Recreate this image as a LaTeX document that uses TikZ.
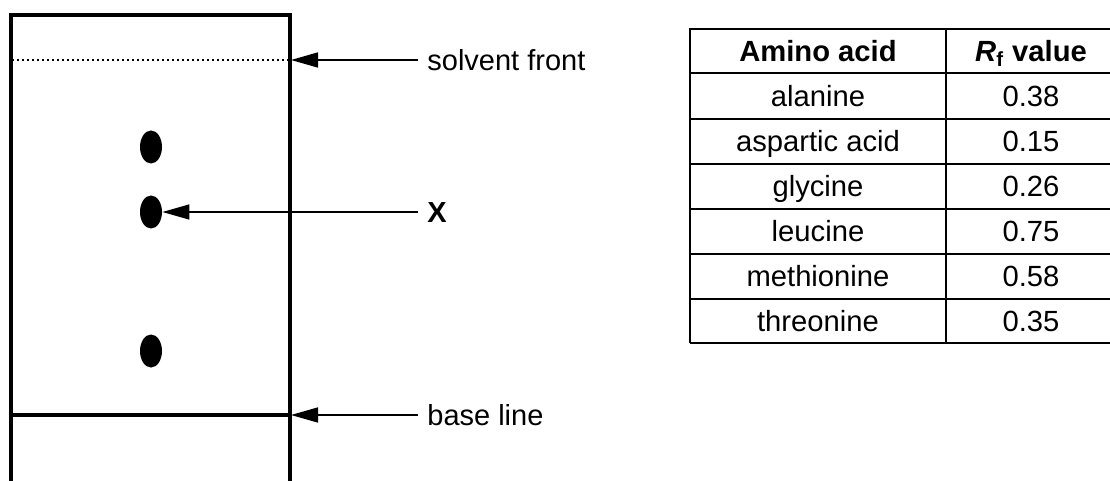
\documentclass[tikz,border=0pt]{standalone}
\usepackage{fontspec}
\setmainfont{Liberation Sans}
\usetikzlibrary{arrows.meta,shapes.geometric}
\begin{document}
\begin{tikzpicture}[x=0.5pt,y=-0.5pt,
  paper/.style={line width=1.6pt},
  spot/.style={ellipse,fill=black,draw=none,minimum width=11pt,minimum height=16.5pt,inner sep=0pt},
  arr/.style={line width=0.8pt,-{Triangle[length=13.5pt,width=7.5pt]}},
  lab/.style={anchor=west,inner xsep=4.5pt,inner ysep=0pt,text height=10.4pt,text depth=0pt,font=\fontsize{14.5}{17}\selectfont},
  grid/.style={line width=1.1pt},
  cell/.style={inner sep=0pt,text height=10.4pt,text depth=0pt,font=\fontsize{14.6}{17}\selectfont},
  head/.style={cell,font=\fontsize{14.6}{17}\selectfont\bfseries}]
\useasboundingbox (0,0) rectangle (1110,481);
\clip (0,0) rectangle (1110,481);
% chromatography paper
\draw[paper] (11,481) -- (11,15) -- (290,15) -- (290,481);
\draw[line width=1.2pt,dash pattern=on 1.1pt off 1.4pt] (12,60) -- (289,60);
\draw[paper] (11,415) -- (290,415);
% spots
\node[spot] (s1) at (151,147) {};
\node[spot] (s2) at (151,212) {};
\node[spot] (s3) at (151,351) {};
% labels and arrows
\coordinate (sftip) at (291,60);
\coordinate (bltip) at (291,415);
\node[lab] (sf) at (418,60) {solvent front};
\node[lab,font=\fontsize{14.5}{17}\selectfont\bfseries] (xl) at (418,212) {X};
\node[lab] (bl) at (418,415) {base line};
\draw[arr] (sf.west) -- (sftip);
\draw[arr] (xl.west) -- (s2.east);
\draw[arr] (bl.west) -- (bltip);
% table
\draw[grid] (690,343) -- (690,29) -- (1116,29);
\draw[grid] (946,29) -- (946,343);
\foreach \yy in {73,119,164,209,254,299,343} \draw[grid] (690,\yy) -- (1116,\yy);
\node[head] (h1) at (818,51) {Amino acid};
\node[head] (h2) at (1031,51) {\textit{R}\textsubscript{f} value};
\node[cell] (a1) at (818,96.5) {alanine};
\node[cell] (a2) at (818,141.5) {aspartic acid};
\node[cell] (a3) at (818,186.5) {glycine};
\node[cell] (a4) at (818,231.5) {leucine};
\node[cell] (a5) at (818,276.5) {methionine};
\node[cell] (a6) at (818,321) {threonine};
\node[cell] (v1) at (1031,96.5) {0.38};
\node[cell] (v2) at (1031,141.5) {0.15};
\node[cell] (v3) at (1031,186.5) {0.26};
\node[cell] (v4) at (1031,231.5) {0.75};
\node[cell] (v5) at (1031,276.5) {0.58};
\node[cell] (v6) at (1031,321) {0.35};
\end{tikzpicture}
\end{document}
